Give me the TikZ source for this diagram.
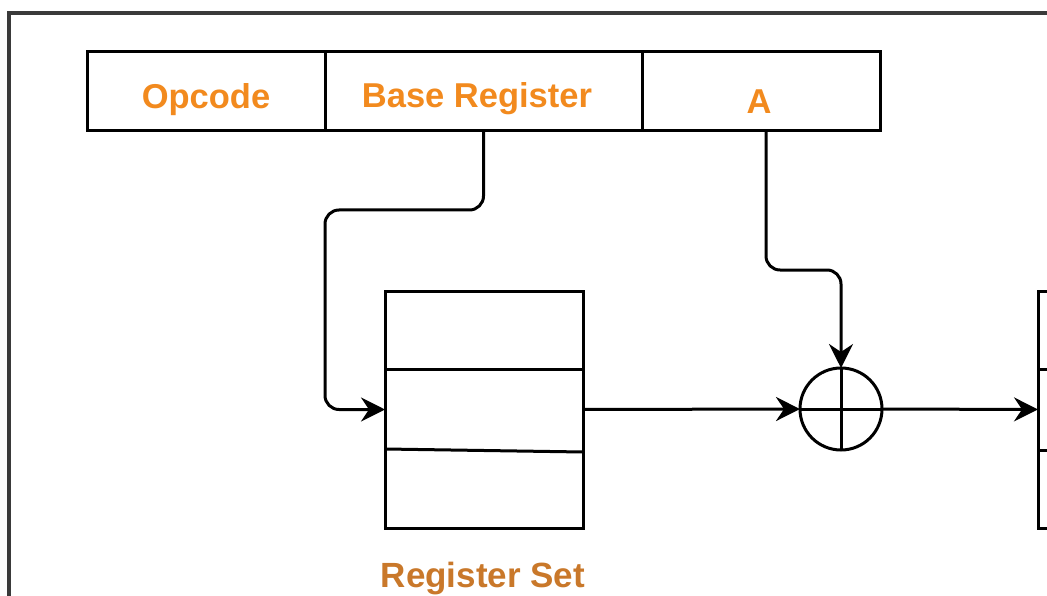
\documentclass[tikz,border=0pt]{standalone}
\usepackage{fontspec}
\setmainfont{Liberation Sans}
\usetikzlibrary{arrows.meta,calc}
\definecolor{fieldorange}{HTML}{F28A1E}
\definecolor{labelbrown}{HTML}{C9782A}
\definecolor{framegray}{HTML}{3A3A3A}
\begin{document}
\begin{tikzpicture}[x=1pt,y=-1pt,
  box/.style={draw=black, line width=3pt, inner sep=0pt, outer sep=0pt, rectangle},
  field/.style={box, minimum height=79pt, anchor=north west},
  fieldtext/.style={anchor=base, inner sep=0pt, font=\fontsize{34.5}{40}\selectfont\bfseries, text=fieldorange},
  wire/.style={line width=3pt, line join=round},
  link/.style={wire, rounded corners=14pt, -{Stealth[length=24pt,width=24pt,inset=8pt]}}]
\useasboundingbox (0,0) rectangle (1047,596);
\fill[white] (0,0) rectangle (1047,596);

% outer frame (continues past the page edges)
\draw[framegray, line width=3.5pt] (9,13) rectangle (1080,640);

% instruction word
\node[field, minimum width=238pt] (opfield)   at (87,52)  {};
\node[field, minimum width=317pt] (basefield) at (325,52) {};
\node[field, minimum width=238pt] (afield)    at (642,52) {};
\node[fieldtext] (optext)   at (206,109) {Opcode};
\node[fieldtext] (basetext) at (477,108) {Base Register};
\node[fieldtext] (atext)    at (759,114) {A};

% register set
\node[box, anchor=north west, minimum width=198pt, minimum height=237pt] (regset) at (385,291) {};
\draw[wire] ($(regset.north west)+(0,78)$) -- ($(regset.north east)+(0,78)$);
\draw[wire] ($(regset.north west)+(0,158)$) -- ($(regset.north east)+(0,161)$);
\node[anchor=base, inner sep=0pt, font=\fontsize{35}{40}\selectfont\bfseries, text=labelbrown] (regtext) at (483,587) {Register Set};

% adder
\node[draw=black, line width=3pt, circle, minimum size=82pt, inner sep=0pt, outer sep=0pt] (adder) at (841,409) {};
\draw[wire] (adder.north) -- (adder.south);
\draw[wire] (adder.west) -- (adder.east);

% memory
\node[box, anchor=north west, minimum width=100pt, minimum height=237pt] (memory) at (1038,291) {};
\draw[wire] ($(memory.north west)+(0,78)$) -- ($(memory.north east)+(0,78)$);
\draw[wire] ($(memory.north west)+(0,159)$) -- ($(memory.north east)+(0,159)$);

% connectors
\coordinate (astart) at ($(afield.south)+(5,0)$);
\draw[link] (basefield.south) -- ++(0,79) -| ($(regset.west)+(-60,0)$) -- (regset.west);
\draw[link] (astart) -- (astart |- 0,270) -| (adder.north);
\draw[link] (regset.east) -- (adder.west);
\draw[link] (adder.east) -- (memory.west);
\end{tikzpicture}
\end{document}
